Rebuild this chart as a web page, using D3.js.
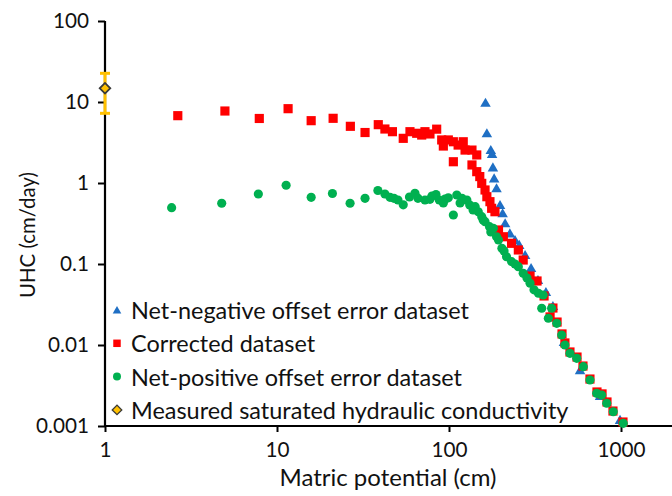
<!DOCTYPE html>
<html><head><meta charset="utf-8">
<script src="https://cdn.jsdelivr.net/npm/d3@7"></script>
<style>body{margin:0;background:#fff}</style>
</head><body>
<svg id="c" width="672" height="496"></svg>
<script>
// ---- data (matric potential cm, UHC cm/day) ----
const negX = [163,166,175,178,180,183,189,198,205,212,226,242,256,277,300,329,366,402,466,578,755,987];
const negY = [9.8,4.11,2.55,2.28,1.56,1.14,0.86,0.535,0.423,0.318,0.239,0.198,0.172,0.129,0.0893,0.0634,0.0451,0.0303,0.0109,0.0049,0.00235,0.00119];

const corX = [2.65,4.98,7.89,11.6,15.8,21.2,26.7,32.5,38.8,42.4,46.9,54.2,59.3,64.9,69.4,72.5,77.5,84.8,90.7,92.7,99.1,106,106,113,121,124,136,145,136,145,151,155,162,166,173,177,185,194,207,231,253,270,296,325,357,402,387,425,454,472,505,555,601,660,725,776,829,898,1027];
const corY = [6.78,7.74,6.26,8.27,5.88,6.29,5.01,4.2,5.25,4.64,4.3,3.56,4.3,4.11,3.91,4.3,4.03,4.62,3.4,2.86,3.4,3.23,1.83,2.94,3.23,2.55,2.55,2.22,1.67,1.38,1.2,0.99,0.82,0.677,0.588,0.487,0.442,0.263,0.217,0.18,0.149,0.112,0.0711,0.0617,0.0403,0.0286,0.0222,0.0192,0.0137,0.0106,0.0082,0.0071,0.0055,0.0038,0.00263,0.00249,0.00198,0.00153,0.00112];

const posX = [2.44,4.77,7.79,11.3,15.8,21.0,26.6,32.5,38.6,42.4,45.4,47.9,50.5,54.2,58.9,63.4,66.0,72.5,77.5,79.6,84.0,87.8,92.7,94.8,99.1,106,111,116,119,127,132,138,142,148,155,158,162,172,175,181,189,194,203,209,216,231,242,253,270,284,296,312,331,353,346,395,378,423,452,472,505,553,604,660,722,772,826,902,1031];
const posY = [0.496,0.562,0.731,0.937,0.666,0.742,0.562,0.647,0.808,0.731,0.666,0.647,0.617,0.538,0.672,0.746,0.647,0.617,0.629,0.69,0.721,0.617,0.567,0.635,0.656,0.403,0.711,0.566,0.647,0.617,0.535,0.464,0.51,0.442,0.384,0.349,0.333,0.289,0.249,0.276,0.217,0.198,0.156,0.145,0.123,0.107,0.1,0.0927,0.0767,0.067,0.0578,0.048,0.0435,0.0414,0.0284,0.0284,0.0214,0.0185,0.0133,0.01,0.0079,0.00685,0.0054,0.0037,0.00253,0.00241,0.00191,0.0015,0.00108];

const measX = [1];
const measY = [14.8];
const measLow = [7.25];
const measHigh = [22.6];

const xTicks = [1,10,100,1000];
const xTickLabels = ["1","10","100","1000"];
const yTicks = [0.001,0.01,0.1,1,10,100];
const yTickLabels = ["0.001","0.01","0.1","1","10","100"];
const legendLabels = ["Net-negative offset error dataset","Corrected dataset","Net-positive offset error dataset","Measured saturated hydraulic conductivity"];
const xTitle = "Matric potential (cm)";
const yTitle = "UHC (cm/day)";

// ---- drawing ----
const FONT = "Lato, 'Open Sans', sans-serif";
const svg = d3.select("#c");
function fit(str, target){
  const t = svg.append("text").style("font-family",FONT).style("font-size","100px").text(str);
  const w = t.node().getComputedTextLength(); t.remove(); return 100*target/w;
}
const legendSize = fit(legendLabels[0], 338);
const tickSize = fit("0.001", 53);
const xTitleSize = fit(xTitle, 217);
const yTitleSize = fit(yTitle, 126);

const x = d3.scaleLog().domain([1,10000]).range([105,793]);
const y = d3.scaleLog().domain([0.001,100]).range([426,21]);

const C = {neg:"#1f6fc4", cor:"#ff0000", pos:"#00b050", meas:"#ffc000", measStroke:"#3a3a3a"};

// axes
const yAxis = svg.append("g").attr("transform","translate(105,0)")
  .call(d3.axisLeft(y).tickValues(yTicks).tickFormat((d,i)=>yTickLabels[i]).tickSize(7).tickPadding(9));
const xAxis = svg.append("g").attr("transform","translate(0,426)")
  .call(d3.axisBottom(x).tickValues(xTicks).tickFormat((d,i)=>xTickLabels[i]).tickSize(6).tickPadding(10));
[yAxis,xAxis].forEach(g=>{
  g.select(".domain").attr("stroke","#000").attr("stroke-width",2.2);
  g.selectAll(".tick line").attr("stroke","#000").attr("stroke-width",2);
  g.selectAll(".tick text").attr("fill","#111").style("font-family",FONT).style("font-size",tickSize+"px");
});
yAxis.select(".domain").attr("d",`M0,${y.range()[1]}V${y.range()[0]}`);
xAxis.select(".domain").attr("d",`M${x.range()[0]},0H${x.range()[1]}`);

// titles
svg.append("text").attr("x",388).attr("y",486).attr("text-anchor","middle")
  .style("font-family",FONT).style("font-size",xTitleSize+"px").attr("fill","#111").text(xTitle);
svg.append("text").attr("transform","translate(27,235) rotate(-90)").attr("text-anchor","middle")
  .attr("dominant-baseline","central")
  .style("font-family",FONT).style("font-size",yTitleSize+"px").attr("fill","#111").text(yTitle);

// symbols
const tri = d3.symbol().type(d3.symbolTriangle).size(48);
const sq = d3.symbol().type(d3.symbolSquare).size(84);
const circ = d3.symbol().type(d3.symbolCircle).size(66);
const dia = d3.symbol().type(d3.symbolSquare).size(56);

svg.append("g").selectAll("path").data(negX.map((v,i)=>[v,negY[i]])).join("path")
  .attr("d",tri).attr("transform",d=>`translate(${x(d[0])},${y(d[1])+1})`).attr("fill",C.neg);
svg.append("g").selectAll("path").data(corX.map((v,i)=>[v,corY[i]])).join("path")
  .attr("d",sq).attr("transform",d=>`translate(${x(d[0])},${y(d[1])})`).attr("fill",C.cor);
svg.append("g").selectAll("path").data(posX.map((v,i)=>[v,posY[i]])).join("path")
  .attr("d",circ).attr("transform",d=>`translate(${x(d[0])},${y(d[1])})`).attr("fill",C.pos);

// measured with error bar
const mg = svg.append("g");
measX.forEach((v,i)=>{
  mg.append("line").attr("x1",x(v)).attr("x2",x(v)).attr("y1",y(measLow[i])).attr("y2",y(measHigh[i]))
    .attr("stroke",C.meas).attr("stroke-width",3);
  [measLow[i],measHigh[i]].forEach(e=>{
    mg.append("line").attr("x1",x(v)-5).attr("x2",x(v)+5).attr("y1",y(e)).attr("y2",y(e))
      .attr("stroke",C.meas).attr("stroke-width",3);
  });
  mg.append("path").attr("d",dia).attr("transform",`translate(${x(v)},${y(measY[i])}) rotate(45)`)
    .attr("fill",C.meas).attr("stroke",C.measStroke).attr("stroke-width",1.8);
});

// legend
const lg = svg.append("g");
const legSyms = [
  {s:d3.symbol().type(d3.symbolTriangle).size(32), f:C.neg, r:0},
  {s:d3.symbol().type(d3.symbolSquare).size(56), f:C.cor, r:0},
  {s:d3.symbol().type(d3.symbolCircle).size(50), f:C.pos, r:0},
  {s:d3.symbol().type(d3.symbolSquare).size(46), f:C.meas, st:C.measStroke, r:45}
];
legendLabels.forEach((lab,i)=>{
  const cy = 310 + i*33.3;
  const p = lg.append("path").attr("d",legSyms[i].s)
    .attr("transform",`translate(117,${cy+(i===0?1:0)}) rotate(${legSyms[i].r})`).attr("fill",legSyms[i].f);
  if(legSyms[i].st) p.attr("stroke",legSyms[i].st).attr("stroke-width",1.3);
  lg.append("text").attr("x",131).attr("y",cy).attr("dominant-baseline","central")
    .style("font-family",FONT).style("font-size",legendSize+"px").attr("fill","#111").text(lab);
});
</script>
</body></html>
